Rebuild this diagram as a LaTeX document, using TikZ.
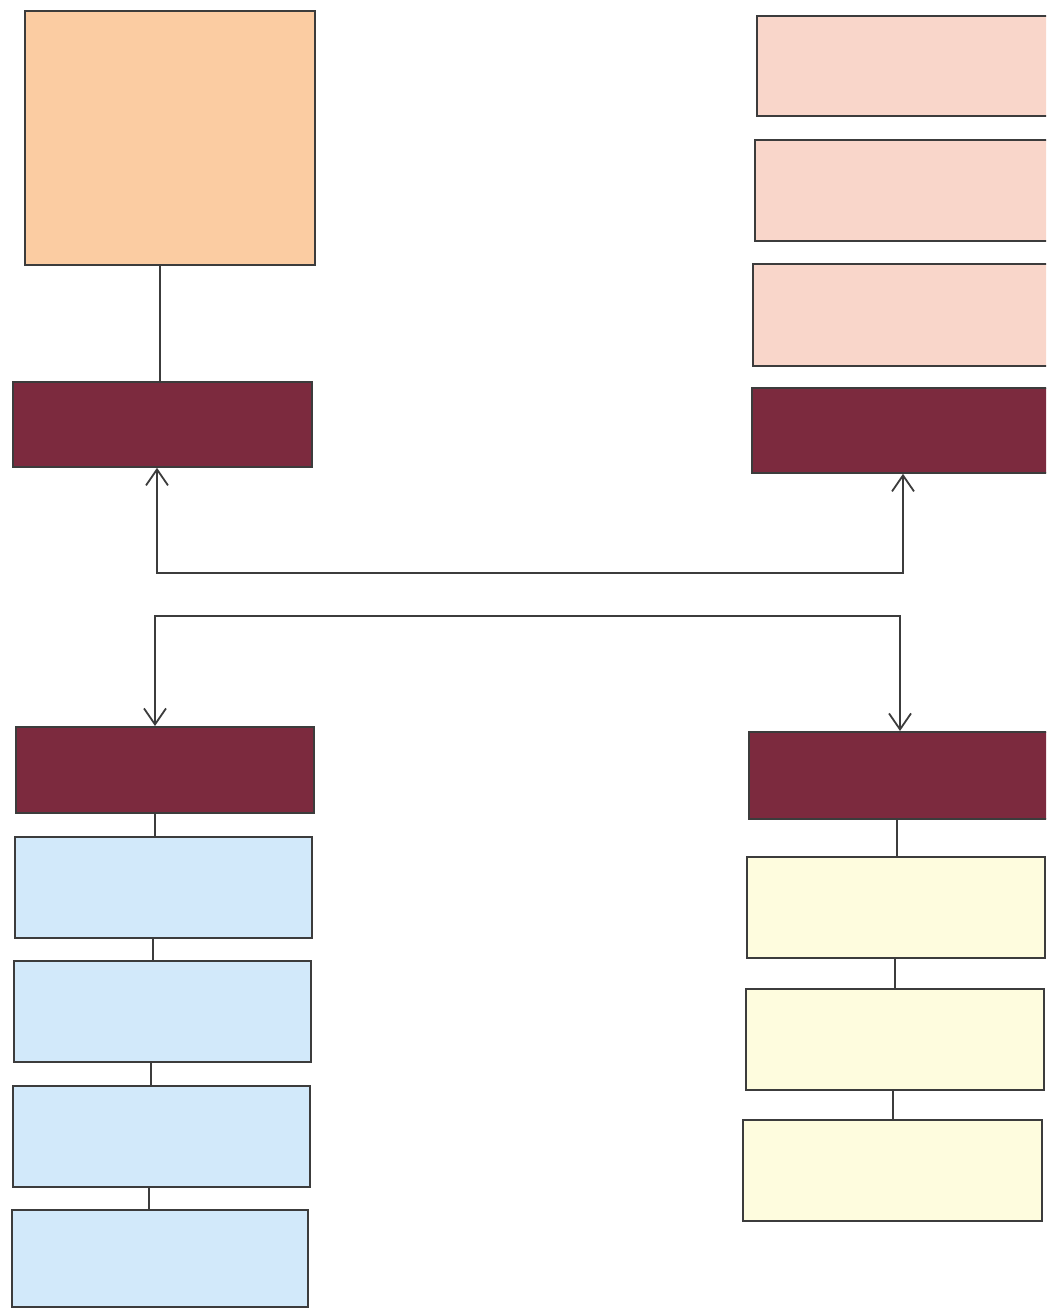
\documentclass[tikz,border=0pt]{standalone}
\usetikzlibrary{arrows.meta}
\definecolor{peach}{RGB}{251,204,162}
\definecolor{pinkbox}{RGB}{249,214,202}
\definecolor{darkbox}{RGB}{124,42,62}
\definecolor{bluebox}{RGB}{210,233,250}
\definecolor{yellowbox}{RGB}{254,252,222}
\definecolor{edge}{RGB}{60,60,60}
\tikzset{
  box/.style={draw=edge, line width=1.8pt, inner sep=0pt, anchor=north west},
  link/.style={draw=edge, line width=1.8pt},
  arr/.style={draw=edge, line width=1.8pt, {Straight Barb[length=16pt,width=22pt,line width=1.8pt]}-{Straight Barb[length=16pt,width=22pt,line width=1.8pt]}},
}
\begin{document}
\begin{tikzpicture}[x=1pt,y=-1pt]
\useasboundingbox (0,0) rectangle (1046,1308);
\clip (0,0) rectangle (1046,1308);
% left column top
\node[box, fill=peach, minimum width=290pt, minimum height=254pt] (tl) at (24,10) {};
\node[box, fill=darkbox, minimum width=299pt, minimum height=85pt] (ld) at (12,381) {};
% right column top
\node[box, fill=pinkbox, minimum width=300pt, minimum height=100pt] (p1) at (756,15) {};
\node[box, fill=pinkbox, minimum width=300pt, minimum height=101pt] (p2) at (754,139) {};
\node[box, fill=pinkbox, minimum width=300pt, minimum height=102pt] (p3) at (752,263) {};
\node[box, fill=darkbox, minimum width=304pt, minimum height=85pt] (rd) at (751,387) {};
% left column bottom
\node[box, fill=darkbox, minimum width=298pt, minimum height=86pt] (lbd) at (15,726) {};
\node[box, fill=bluebox, minimum width=297pt, minimum height=101pt] (b1) at (14,836) {};
\node[box, fill=bluebox, minimum width=297pt, minimum height=101pt] (b2) at (13,960) {};
\node[box, fill=bluebox, minimum width=297pt, minimum height=101pt] (b3) at (12,1085) {};
\node[box, fill=bluebox, minimum width=296pt, minimum height=97pt] (b4) at (11,1209) {};
% right column bottom
\node[box, fill=darkbox, minimum width=302pt, minimum height=87pt] (rbd) at (748,731) {};
\node[box, fill=yellowbox, minimum width=298pt, minimum height=101pt] (y1) at (746,856) {};
\node[box, fill=yellowbox, minimum width=298pt, minimum height=101pt] (y2) at (745,988) {};
\node[box, fill=yellowbox, minimum width=299pt, minimum height=101pt] (y3) at (742,1119) {};
% connectors
\coordinate (c0) at (160,0);
\draw[link] (tl.south -| c0) -- (ld.north -| c0);
\coordinate (c1) at (155,0);
\coordinate (c2) at (153,0);
\coordinate (c3) at (151,0);
\coordinate (c4) at (149,0);
\draw[link] (lbd.south -| c1) -- (b1.north -| c1);
\draw[link] (b1.south -| c2) -- (b2.north -| c2);
\draw[link] (b2.south -| c3) -- (b3.north -| c3);
\draw[link] (b3.south -| c4) -- (b4.north -| c4);
\coordinate (d1) at (897,0);
\coordinate (d2) at (895,0);
\coordinate (d3) at (893,0);
\draw[link] (rbd.south -| d1) -- (y1.north -| d1);
\draw[link] (y1.south -| d2) -- (y2.north -| d2);
\draw[link] (y2.south -| d3) -- (y3.north -| d3);
% arrows
\coordinate (j1) at (157,573);
\coordinate (j1r) at (903,573);
\draw[arr] (ld.south -| j1) -- (j1) -- (j1r) -- (rd.south -| j1r);
\coordinate (j2) at (155,616);
\coordinate (j2r) at (900,616);
\draw[arr] (lbd.north -| j2) -- (j2) -- (j2r) -- (rbd.north -| j2r);
\end{tikzpicture}
\end{document}
